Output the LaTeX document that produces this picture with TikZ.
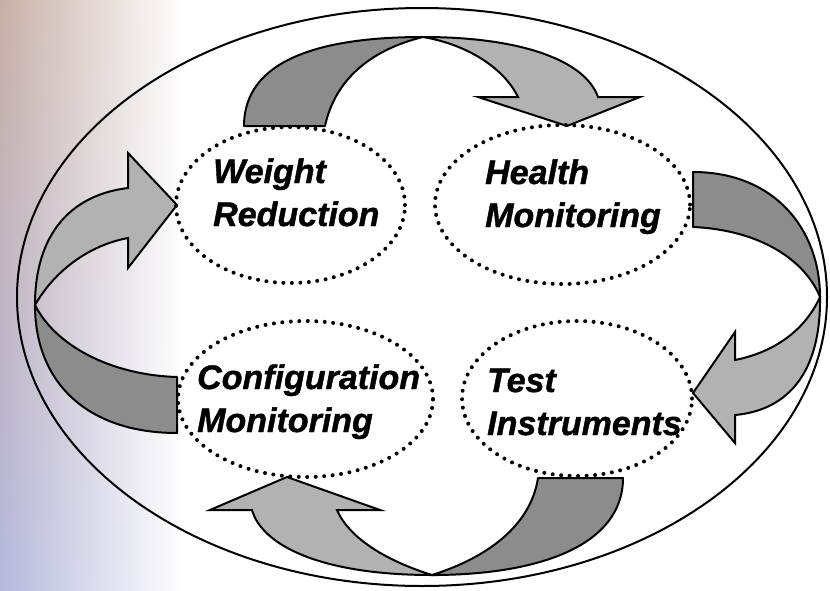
\documentclass[tikz,border=0pt]{standalone}
\usepackage{fontspec}
\setmainfont[BoldItalicFeatures={FakeBold=1.2}]{Liberation Sans}
\usetikzlibrary{shapes.geometric}
\definecolor{bgtop}{HTML}{C8B0A8}
\definecolor{bgbot}{HTML}{B6B8DC}
\definecolor{arcdark}{HTML}{8C8C8C}
\definecolor{arclight}{HTML}{B2B2B2}

\begin{document}
\begin{tikzpicture}[x=1pt, y=-1pt,
    blob/.style={ellipse, draw, line width=4pt, dash pattern=on 0pt off 8.5pt, line cap=round, inner sep=0pt},
    topic/.style={font=\fontsize{34}{43}\selectfont\bfseries\itshape, align=left, inner sep=0pt, anchor=base west},
    backarc/.style={draw, fill=arcdark, line width=2pt, line join=round},
    frontarc/.style={draw, fill=arclight, line width=2pt, line join=miter}]
  \useasboundingbox (0,0) rectangle (830,590);
  \fill[white] (0,0) rectangle (830,590); %
  % backdrop on the left
  \foreach \i in {0,...,58} {
    \pgfmathtruncatemacro\p{100-\i*100/58}
    \shade[left color=bgtop!\p!bgbot, right color=white] (0,\i*10) rectangle (185,\i*10+11);
  }
  \node[ellipse, draw, line width=2pt, minimum width=810pt, minimum height=578pt, inner sep=0pt] (rim) at (422,297) {}; %
  % weight -> health
  \draw[backarc] (244,126) .. controls (244,60) and (320,37) .. (423,37) .. controls (370,50) and (335,80) .. (325,126) -- cycle;
  \draw[frontarc] (423,37) .. controls (520,37) and (585,60) .. (598,97) -- (640,97) -- (567,126) -- (478,97) -- (518,97) .. controls (505,70) and (470,45) .. (423,37) -- cycle;
  % health -> test
  \draw[backarc] (693,172) .. controls (775,172) and (820,230) .. (820,297) .. controls (805,260) and (760,230) .. (693,227) -- cycle;
  \draw[frontarc] (820,297) .. controls (821,370) and (790,410) .. (735,415) -- (735,443) -- (693,393) -- (735,332) -- (735,360) .. controls (775,352) and (805,330) .. (820,297) -- cycle;
  % test -> configuration
  \draw[backarc] (623,478) .. controls (623,545) and (540,575) .. (432,575) .. controls (480,560) and (530,530) .. (538,478) -- cycle;
  \draw[frontarc] (432,575) .. controls (320,575) and (262,545) .. (252,510) -- (210,510) -- (287,477) -- (380,510) -- (337,510) .. controls (350,540) and (390,562) .. (432,575) -- cycle;
  % configuration -> weight
  \draw[backarc] (177,433) .. controls (90,433) and (35,385) .. (35,305) .. controls (55,345) and (110,375) .. (177,377) -- cycle;
  \draw[frontarc] (35,305) .. controls (35,235) and (70,195) .. (128,188) -- (128,153) -- (177,205) -- (128,268) -- (128,238) .. controls (90,245) and (55,270) .. (35,305) -- cycle;
  % the four topics
  \node[blob, minimum width=229pt, minimum height=156pt] (weight) at (290.5,205) {};
  \node[blob, minimum width=255pt, minimum height=159pt] (health) at (562.5,204.5) {};
  \node[blob, minimum width=255pt, minimum height=156pt] (config) at (305.5,399) {};
  \node[blob, minimum width=230pt, minimum height=155pt] (test) at (577,398.5) {};
  \node[topic] (weighttxt) at (213,226) {Weight\\Reduction};
  \node[topic] (healthtxt) at (485,227) {Health\\Monitoring};
  \node[topic] (configtxt) at (197,432) {Configuration\\Monitoring};
  \node[topic] (testtxt) at (487,435) {Test\\Instruments};
\end{tikzpicture}
\end{document}
